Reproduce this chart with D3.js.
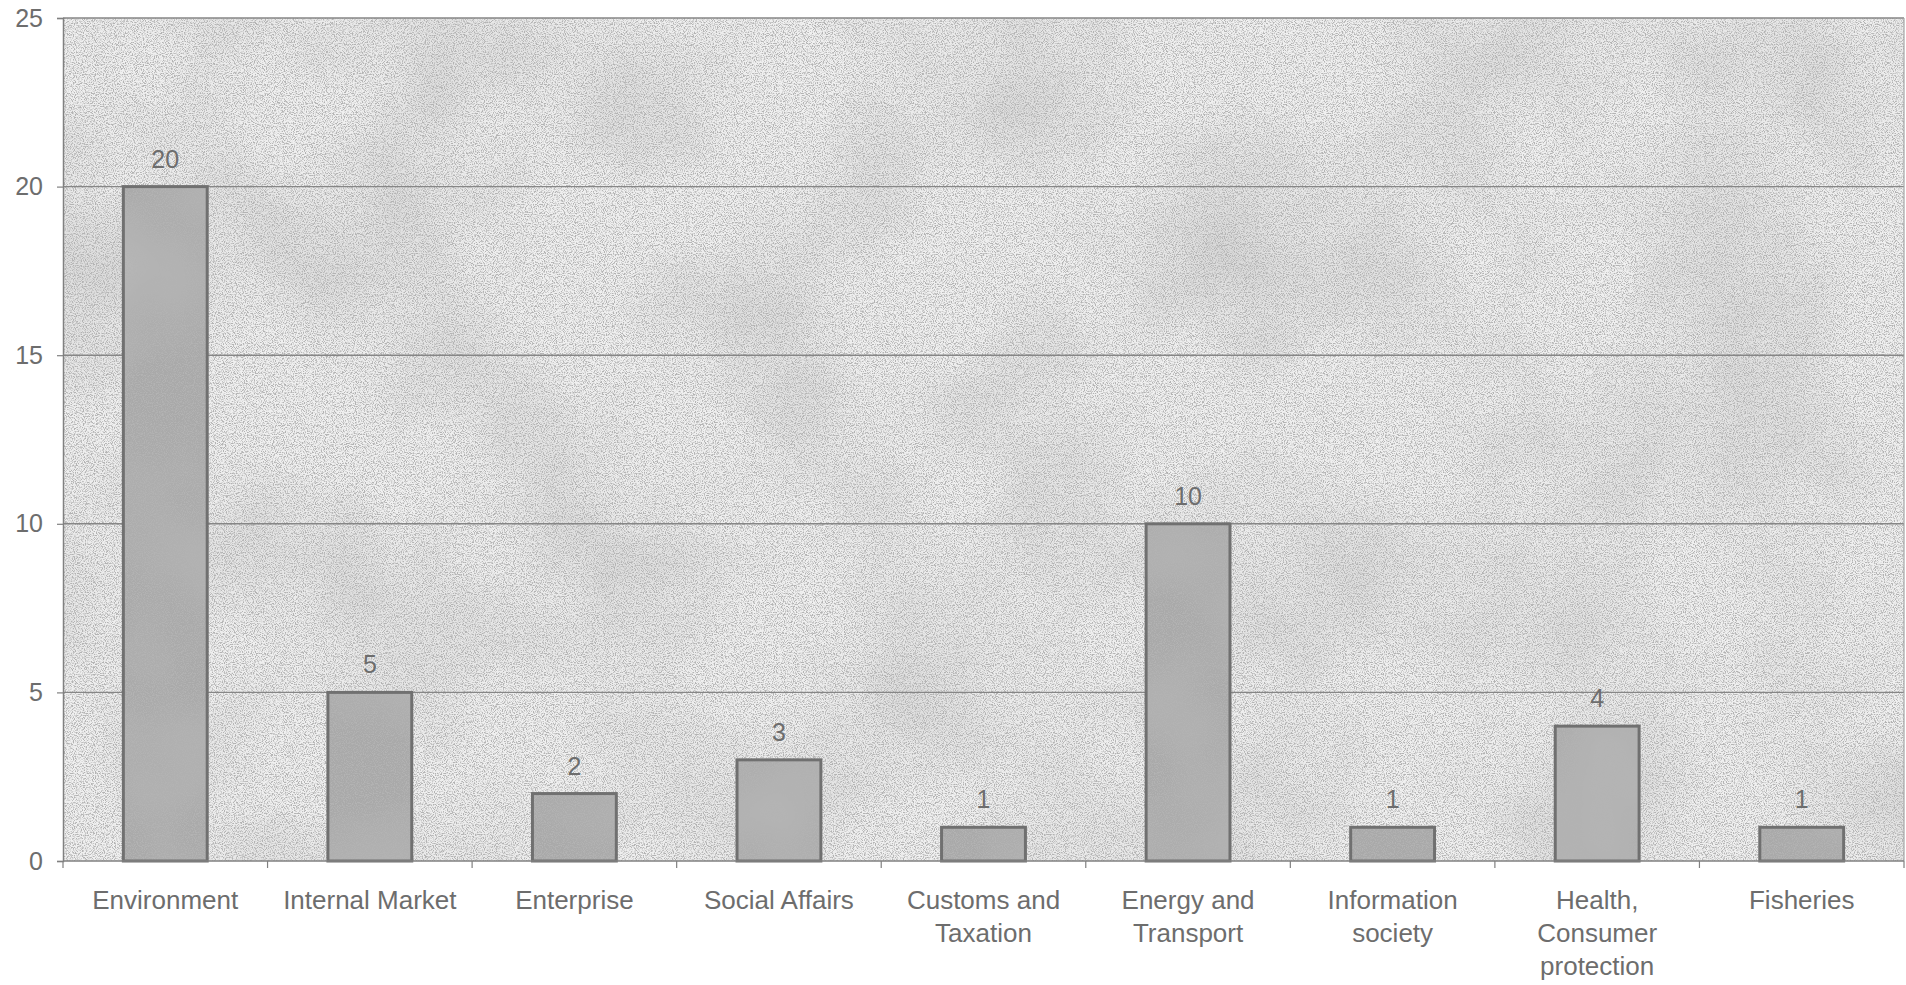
<!DOCTYPE html>
<html lang="en">
<head>
<meta charset="UTF-8">
<title>Bar chart</title>
<style>
  body { margin: 0; background: #fff; }
  text { font-family: "Liberation Sans", Arial, sans-serif; fill: #6d6d6d; }
</style>
</head>
<body>
<svg width="1906" height="985"></svg>
<script src="https://d3js.org/d3.v7.min.js"></script>
<script>
// data
var categories = ["Environment", "Internal Market", "Enterprise", "Social Affairs",
  "Customs and Taxation", "Energy and Transport", "Information society",
  "Health, Consumer protection", "Fisheries"];
var values = [20, 5, 2, 3, 1, 10, 1, 4, 1];
var tickLabelLines = [["Environment"], ["Internal Market"], ["Enterprise"], ["Social Affairs"],
  ["Customs and", "Taxation"], ["Energy and", "Transport"], ["Information", "society"],
  ["Health,", "Consumer", "protection"], ["Fisheries"]];
var yTicks = [0, 5, 10, 15, 20, 25];

var svg = d3.select("svg");
var plotLeft = 63, plotRight = 1904, plotTop = 18, plotBottom = 861;

var x = d3.scaleBand().domain(categories).range([plotLeft, plotRight])
  .paddingInner(0.59).paddingOuter(0.295);
var y = d3.scaleLinear().domain([0, 25]).range([plotBottom, plotTop]);

// scanned paper grain
var defs = svg.append("defs");
var f = defs.append("filter").attr("id", "grain")
  .attr("x", 0).attr("y", 0).attr("width", "100%").attr("height", "100%");
f.append("feTurbulence").attr("type", "fractalNoise").attr("baseFrequency", 0.9)
  .attr("numOctaves", 2).attr("seed", 7).attr("result", "fine");
f.append("feColorMatrix").attr("in", "fine").attr("type", "matrix")
  .attr("values", "0 0 0 0 0.45  0 0 0 0 0.45  0 0 0 0 0.45  4.2 0 0 0 -1.85")
  .attr("result", "dots");
f.append("feTurbulence").attr("type", "fractalNoise").attr("baseFrequency", 0.006)
  .attr("numOctaves", 3).attr("seed", 2).attr("result", "cloud");
f.append("feColorMatrix").attr("in", "cloud").attr("type", "matrix")
  .attr("values", "0 0 0 0 0.55  0 0 0 0 0.55  0 0 0 0 0.55  1.0 0 0 0 -0.38")
  .attr("result", "shade");
f.append("feMerge").attr("result", "m").selectAll("feMergeNode")
  .data(["SourceGraphic", "shade", "dots"]).enter().append("feMergeNode")
  .attr("in", d => d);
f.append("feComposite").attr("in", "m").attr("in2", "SourceAlpha").attr("operator", "in");

// plot background
svg.append("rect")
  .attr("x", plotLeft).attr("y", plotTop)
  .attr("width", plotRight - plotLeft).attr("height", plotBottom - plotTop)
  .attr("fill", "#f0f0f0")
  .attr("filter", "url(#grain)");

// gridlines
svg.append("g").selectAll("line")
  .data(yTicks.filter(d => d > 0))
  .enter().append("line")
  .attr("x1", plotLeft).attr("x2", plotRight)
  .attr("y1", d => y(d)).attr("y2", d => y(d))
  .attr("stroke", "#868686").attr("stroke-width", 1.4);

// right border
svg.append("line")
  .attr("x1", plotRight).attr("x2", plotRight).attr("y1", plotTop).attr("y2", plotBottom)
  .attr("stroke", "#a5a5a5").attr("stroke-width", 1.2);

// bars
svg.append("g").selectAll("rect")
  .data(values)
  .enter().append("rect")
  .attr("x", (d, i) => x(categories[i]))
  .attr("y", d => y(d))
  .attr("width", x.bandwidth())
  .attr("height", d => y(0) - y(d))
  .attr("fill", "#a9a9a9")
  .attr("filter", "url(#grain)");

svg.append("g").selectAll("rect")
  .data(values)
  .enter().append("rect")
  .attr("x", (d, i) => x(categories[i]))
  .attr("y", d => y(d))
  .attr("width", x.bandwidth())
  .attr("height", d => y(0) - y(d))
  .attr("fill", "none")
  .attr("stroke", "#707070").attr("stroke-width", 3);

// value labels
svg.append("g").selectAll("text")
  .data(values)
  .enter().append("text")
  .attr("x", (d, i) => x(categories[i]) + x.bandwidth() / 2)
  .attr("y", d => y(d) - 19)
  .attr("text-anchor", "middle")
  .style("font-size", "25px")
  .text(d => d);

// y axis
var yAxis = svg.append("g")
  .attr("transform", "translate(" + plotLeft + ",0)")
  .call(d3.axisLeft(y).tickValues(yTicks).tickSize(6).tickPadding(14));
yAxis.select(".domain").attr("stroke", "#808080").attr("stroke-width", 1.5);
yAxis.selectAll(".tick line").attr("stroke", "#808080").attr("stroke-width", 1.2);
yAxis.selectAll(".tick text").style("font-size", "25px").attr("fill", "#6d6d6d")
  .attr("font-family", null);

// x axis line and ticks between categories
svg.append("line")
  .attr("x1", plotLeft).attr("x2", plotRight).attr("y1", plotBottom).attr("y2", plotBottom)
  .attr("stroke", "#808080").attr("stroke-width", 1.5);
svg.append("g").selectAll("line")
  .data(d3.range(categories.length + 1))
  .enter().append("line")
  .attr("x1", i => plotLeft + i * x.step()).attr("x2", i => plotLeft + i * x.step())
  .attr("y1", plotBottom).attr("y2", plotBottom + 7)
  .attr("stroke", "#808080").attr("stroke-width", 1.2);

// category labels
var lab = svg.append("g").selectAll("text")
  .data(categories)
  .enter().append("text")
  .attr("text-anchor", "middle")
  .style("font-size", "26px");
lab.each(function (c, i) {
  var t = d3.select(this);
  tickLabelLines[i].forEach(function (line, k) {
    t.append("tspan")
      .attr("x", x(c) + x.bandwidth() / 2)
      .attr("y", 909 + k * 33)
      .text(line);
  });
});
</script>
</body>
</html>
